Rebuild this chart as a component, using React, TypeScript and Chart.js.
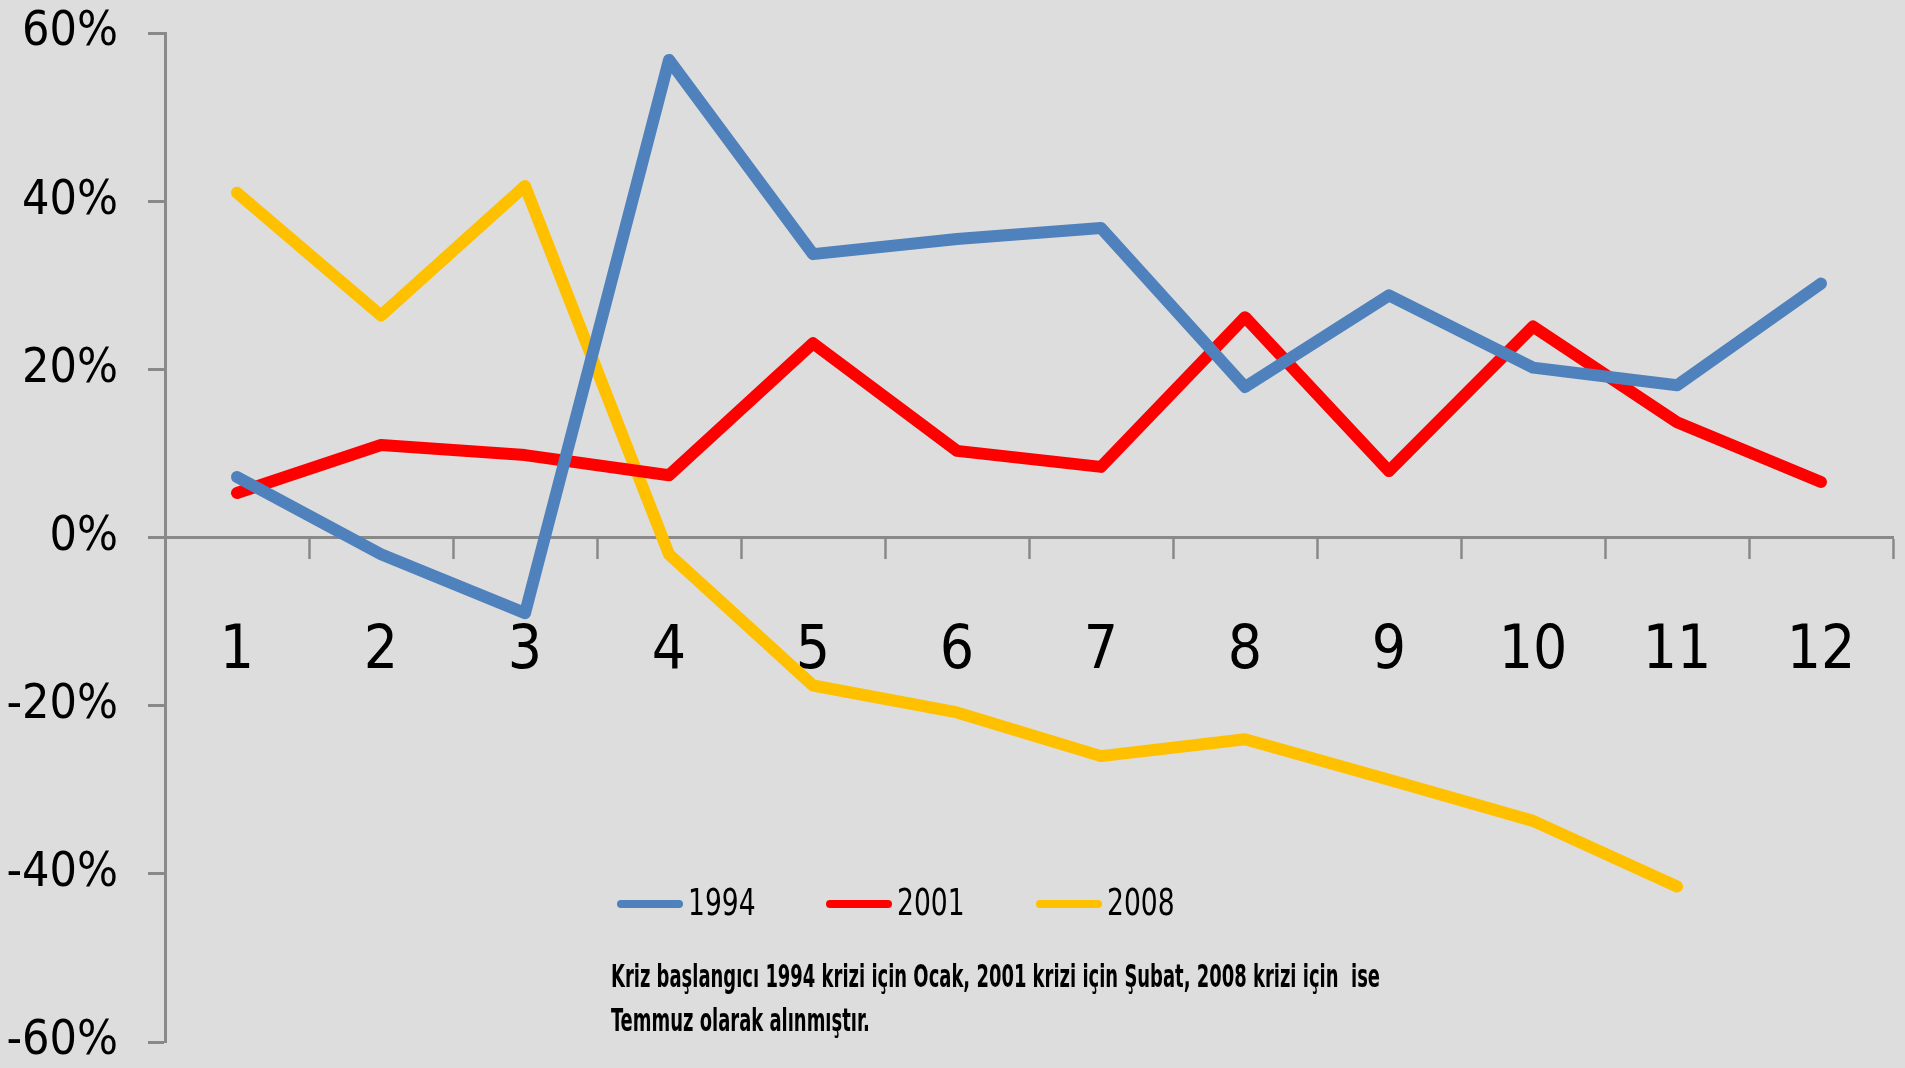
import React, { useEffect, useRef } from 'react';
import { Chart, registerables } from 'chart.js';

Chart.register(...registerables);

// ---- data ----
const months = ['1', '2', '3', '4', '5', '6', '7', '8', '9', '10', '11', '12'];
const series1994 = [7.2, -2.0, -9.0, 56.8, 33.7, 35.5, 36.8, 17.9, 28.8, 20.2, 18.1, 30.2];
const series2001 = [5.3, 11.0, 9.8, 7.4, 23.1, 10.3, 8.4, 26.2, 7.9, 25.1, 13.7, 6.6];
const series2008 = [41.0, 26.4, 41.8, -2.0, -17.6, -20.8, -26.0, -24.0, -28.8, -33.7, -41.5, null];
const seriesNames = ['1994', '2001', '2008'];
const seriesColors = ['#4F81BD', '#FF0000', '#FFC000'];
const yMin = -60;
const yMax = 60;
const yStep = 20;
const noteLines = [
  'Kriz başlangıcı 1994 krizi için Ocak, 2001 krizi için Şubat, 2008 krizi için  ise',
  'Temmuz olarak alınmıştır.',
];

const FONT = "'Liberation Sans Narrow', 'DejaVu Sans Condensed', 'Arial Narrow', sans-serif";
const AXIS_GRAY = '#898989';

const legendNotePlugin = {
  id: 'legendNote',
  afterDraw(chart: any) {
    const ctx = chart.ctx as CanvasRenderingContext2D;
    ctx.save();
    // legend
    const legendY = 904;
    const starts = [617, 826, 1036];
    chart.data.datasets.forEach((ds: any, i: number) => {
      const x0 = starts[i];
      ctx.strokeStyle = ds.borderColor;
      ctx.lineWidth = 8;
      ctx.lineCap = 'round';
      ctx.beginPath();
      ctx.moveTo(x0 + 4, legendY);
      ctx.lineTo(x0 + 62, legendY);
      ctx.stroke();
      ctx.save();
      ctx.translate(x0 + 71, legendY + 1);
      ctx.scale(0.82, 1.03);
      ctx.fillStyle = '#000';
      ctx.font = `36px ${FONT}`;
      ctx.textAlign = 'left';
      ctx.textBaseline = 'middle';
      ctx.fillText(ds.label, 0, 0);
      ctx.restore();
    });
    // note
    ctx.font = `bold 24px ${FONT}`;
    const w0 = ctx.measureText(noteLines[0]).width;
    const sx = 769 / w0;
    const noteYs = [979, 1023];
    noteLines.forEach((line, i) => {
      ctx.save();
      ctx.translate(611, noteYs[i]);
      ctx.scale(sx, 1.3);
      ctx.fillStyle = '#000';
      ctx.textAlign = 'left';
      ctx.textBaseline = 'middle';
      ctx.fillText(line, 0, 0);
      ctx.restore();
    });
    ctx.restore();
  },
};

export default function App() {
  const canvasRef = useRef<HTMLCanvasElement | null>(null);

  useEffect(() => {
    document.body.style.margin = '0';
    const canvas = canvasRef.current;
    if (!canvas) return;
    const chart = new Chart(canvas, {
      type: 'line',
      data: {
        labels: months,
        datasets: [series1994, series2001, series2008].map((d, i) => ({
          label: seriesNames[i],
          data: d,
          borderColor: seriesColors[i],
          backgroundColor: seriesColors[i],
          borderWidth: 12,
          pointRadius: 0,
          pointHoverRadius: 0,
          tension: 0,
          borderJoinStyle: 'round' as const,
          borderCapStyle: 'round' as const,
          spanGaps: false,
        })),
      },
      options: {
        animation: false,
        responsive: false,
        maintainAspectRatio: false,
        devicePixelRatio: 1,
        layout: { padding: { top: 33, right: 12, bottom: 26, left: 0 } },
        plugins: {
          legend: { display: false },
          tooltip: { enabled: false },
          title: { display: false },
        },
        scales: {
          x: {
            type: 'category',
            position: { y: 0 } as any,
            offset: true,
            grid: {
              offset: true,
              drawOnChartArea: false,
              drawTicks: true,
              tickLength: 20,
              tickColor: AXIS_GRAY,
              tickWidth: 2.5,
            },
            border: { display: true, color: AXIS_GRAY, width: 3 },
            ticks: {
              color: '#000',
              font: { family: FONT, size: 60 },
              padding: 59,
              maxRotation: 0,
              autoSkip: false,
            },
            afterFit: (s: any) => {
              s.height = 0;
              s.paddingLeft = 0;
              s.paddingRight = 0;
              s.paddingTop = 0;
              s.paddingBottom = 0;
            },
          },
          y: {
            type: 'linear',
            position: 'left',
            min: yMin,
            max: yMax,
            grid: {
              drawOnChartArea: false,
              drawTicks: true,
              tickLength: 17,
              tickColor: AXIS_GRAY,
              tickWidth: 3,
            },
            border: { display: true, color: AXIS_GRAY, width: 3 },
            ticks: {
              stepSize: yStep,
              color: '#000',
              font: { family: FONT, size: 48 },
              padding: 30,
              callback: (v: any) => `${v}%`,
            },
            afterFit: (s: any) => {
              s.width = 165;
              s.paddingTop = 0;
              s.paddingBottom = 0;
              s.paddingLeft = 0;
              s.paddingRight = 0;
            },
          },
        },
      },
      plugins: [legendNotePlugin],
    });
    return () => chart.destroy();
  }, []);

  return (
    <div
      style={{
        position: 'fixed',
        left: 0,
        top: 0,
        width: 1905,
        height: 1068,
        background: '#DDDDDD',
      }}
    >
      <canvas ref={canvasRef} width={1905} height={1068} style={{ display: 'block' }} />
    </div>
  );
}
